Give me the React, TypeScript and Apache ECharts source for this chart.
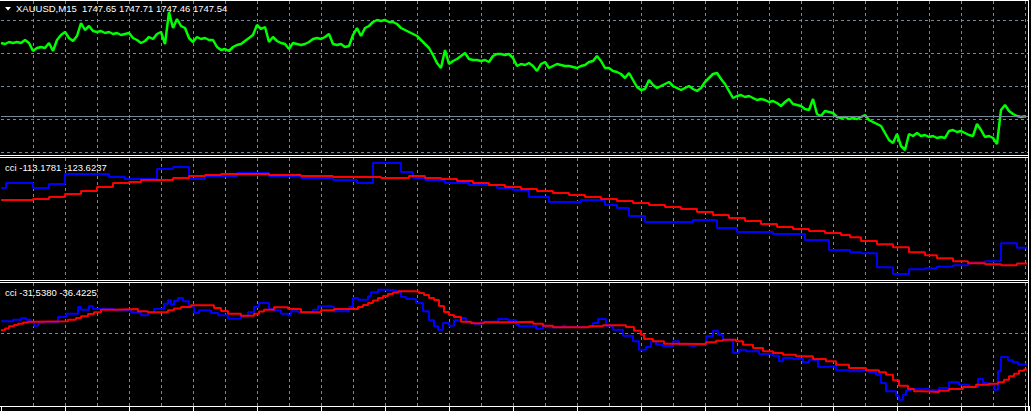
import React, { useEffect, useRef } from "react";
import * as echarts from "echarts";

// ---------- data ----------
const SYMBOL = "XAUUSD";
const PERIOD = "M15";
const OHLC = [1747.65, 1747.71, 1747.46, 1747.54];
const BARS_PER_POINT = 4; // one close every 4 M15 bars
const closes = [
  1765.85, 1765.6, 1766.1, 1765.85, 1766.1, 1765.85, 1766.6, 1765.85, 1763.85, 1764.6,
  1764.85, 1764.6, 1765.85, 1763.85, 1766.6, 1767.85, 1768.6, 1767.1, 1766.35, 1767.6,
  1770.85, 1769.1, 1770.1, 1768.85, 1768.6, 1768.85, 1768.35, 1768.6, 1768.1, 1768.35,
  1767.85, 1768.1, 1768.35, 1767.1, 1766.6, 1765.85, 1766.35, 1767.35, 1766.85, 1768.1,
  1768.6, 1765.6, 1773.6, 1769.6, 1771.85, 1770.1, 1769.6, 1767.1, 1766.1, 1767.35,
  1766.85, 1767.1, 1766.6, 1766.6, 1764.85, 1764.1, 1764.35, 1763.85, 1764.85, 1765.35,
  1765.6, 1766.35, 1767.1, 1767.85, 1770.35, 1769.35, 1769.85, 1766.1, 1767.35, 1766.35,
  1765.85, 1765.6, 1764.35, 1765.85, 1765.6, 1765.35, 1765.6, 1766.1, 1766.85, 1767.1,
  1766.85, 1767.35, 1768.1, 1765.6, 1765.35, 1765.6, 1764.85, 1765.1, 1767.85, 1769.6,
  1767.6, 1769.6, 1770.1, 1771.1, 1771.6, 1771.35, 1771.6, 1771.1, 1771.1, 1770.6,
  1769.6, 1769.1, 1768.6, 1768.1, 1767.6, 1766.6, 1765.6, 1764.6, 1762.85, 1760.85,
  1759.6, 1764.1, 1760.6, 1761.35, 1761.85, 1762.6, 1763.35, 1761.85, 1761.6, 1761.6,
  1761.35, 1761.6, 1761.1, 1762.6, 1763.1, 1763.1, 1762.85, 1763.1, 1762.1, 1760.1,
  1760.6, 1760.35, 1760.85, 1760.1, 1758.85, 1760.6, 1761.1, 1759.6, 1760.1, 1760.6,
  1760.35, 1760.1, 1760.1, 1759.85, 1759.6, 1760.1, 1760.35, 1761.1, 1761.35, 1762.6,
  1761.35, 1759.6, 1759.6, 1758.85, 1758.6, 1758.1, 1757.1, 1758.35, 1756.6, 1754.85,
  1754.1, 1754.35, 1756.6, 1755.35, 1754.6, 1755.1, 1755.6, 1756.1, 1755.1, 1754.6,
  1754.1, 1754.6, 1755.1, 1754.35, 1753.85, 1754.6, 1756.1, 1757.1, 1758.1, 1758.35,
  1756.85, 1755.6, 1753.85, 1752.1, 1752.6, 1752.85, 1752.35, 1752.6, 1752.1, 1751.6,
  1751.85, 1751.6, 1751.1, 1751.35, 1750.85, 1750.1, 1751.1, 1751.85, 1750.6, 1750.35,
  1750.1, 1749.35, 1749.1, 1751.85, 1748.1, 1747.6, 1748.85, 1748.6, 1748.35, 1747.35,
  1747.1, 1747.35, 1746.85, 1747.1, 1746.85, 1747.35, 1747.85, 1746.6, 1746.1, 1745.6,
  1745.1, 1743.35, 1741.6, 1740.85, 1743.1, 1740.1, 1739.1, 1743.1, 1742.6, 1743.35,
  1742.6, 1742.85, 1742.35, 1742.6, 1742.1, 1742.35, 1742.1, 1743.85, 1744.1, 1743.6,
  1743.85, 1743.35, 1742.85, 1742.6, 1745.6, 1744.1, 1742.35, 1742.6, 1742.1, 1740.6,
  1749.1, 1750.35, 1748.85, 1748.1, 1747.6, 1747.35, 1747.54,
];

// slow CCI pane (step lines): bar index where value changes, and the value
const slowLabel = [-113.1781, -123.6237];
const slowBlueBars = [0, 5, 32, 48, 64, 108, 124, 156, 172, 188, 204, 236, 268, 300, 332, 356, 372, 400, 412, 424, 444, 468, 496, 512, 528, 548, 580, 604, 616, 628, 644, 692, 716, 736, 772, 804, 828, 849, 860, 876, 892, 908, 924, 936, 952, 967, 984, 1000, 1016, 1026];
const slowBlueVals = [-73.3, -70, -73.3, -70.7, -64, -66, -67.3, -60.7, -59.3, -67.3, -65.3, -63.3, -65.3, -66.7, -68, -70, -56.7, -62.7, -66.7, -68, -70, -71.3, -73.3, -74.7, -79.3, -82.7, -81.3, -84.7, -86.7, -92, -96, -94.7, -100, -102.7, -104, -108, -114.7, -116.2, -116.9, -126.2, -130.7, -127.5, -126.9, -125.8, -124.9, -122.9, -122.2, -110.2, -113.1781, -113.1781];
const slowRedBars = [0, 32, 48, 64, 80, 96, 112, 128, 140, 172, 188, 204, 220, 268, 300, 332, 380, 408, 424, 440, 456, 472, 488, 504, 520, 536, 552, 568, 584, 600, 616, 632, 648, 664, 680, 696, 712, 728, 744, 760, 776, 792, 808, 824, 840, 849, 860, 876, 892, 908, 924, 936, 952, 967, 984, 1000, 1016, 1026];
const slowRedVals = [-81.3, -80.7, -79.3, -77.3, -75.3, -72.7, -70, -69.3, -68, -66.7, -65.3, -64.7, -64, -64.7, -65.3, -66, -66.7, -65.3, -66.7, -67.3, -68.7, -70, -71.3, -72.7, -74, -75.3, -76.7, -78, -79.3, -80.7, -82, -83.3, -84.7, -86, -87.3, -89.3, -91.3, -93.3, -95.3, -97.3, -99.3, -100.7, -102, -103.3, -104.7, -106.2, -108.7, -110.9, -112.9, -116.2, -118.2, -120.2, -122.2, -123.5, -124.2, -124.9, -123.6237, -123.6237];

// fast CCI pane
const fastLabel = [-31.538, -36.4225];
const fastBlueBars = [0, 12, 20, 25, 30, 33, 37, 43, 57, 65, 77, 80, 88, 92, 113, 130, 140, 147, 153, 163, 167, 170, 173, 177, 182, 188, 193, 198, 210, 217, 227, 240, 247, 253, 258, 268, 272, 280, 287, 290, 297, 312, 317, 330, 333, 348, 352, 357, 367, 370, 377, 387, 395, 400, 405, 415, 422, 428, 433, 437, 442, 448, 453, 460, 465, 473, 480, 497, 507, 515, 518, 535, 542, 545, 562, 565, 592, 597, 605, 612, 622, 632, 638, 645, 650, 655, 662, 672, 678, 688, 695, 705, 712, 717, 722, 732, 738, 745, 758, 772, 778, 782, 792, 802, 808, 817, 825, 835, 848, 862, 868, 875, 880, 885, 895, 898, 902, 905, 910, 928, 938, 948, 958, 968, 977, 982, 987, 993, 997, 1000, 1007, 1012, 1017, 1026];
const fastBlueVals = [11.7, 13.3, 14.7, 13.3, 10.7, 7.3, 10, 11, 16, 19.3, 26, 23.3, 26.7, 24, 22.7, 20.7, 17.7, 20.7, 24, 29.3, 32.7, 28.3, 32.3, 35, 31.7, 26, 20, 22.7, 20, 17.7, 14.3, 16.7, 20.7, 26, 30, 24, 22.7, 19.3, 17.7, 21.7, 20.7, 23.3, 26.7, 26, 21.7, 26, 35, 33.3, 36.7, 40.7, 43.3, 42.7, 40.7, 36, 34, 30, 21.7, 12.7, 6.7, 3.3, 10, 7.3, 12.7, 15, 10.7, 9.3, 11.3, 14, 12.7, 8.3, 6.7, 4.3, 7.3, 5.7, 7.3, 6, 10, 14, 7.3, 3.3, -2.7, -8.3, -16.7, -14, -8.3, -11.7, -13.3, -8.3, -11.7, -12.7, -11.7, -3.3, 2.3, -1.7, -6.7, -20, -16.7, -18.3, -21, -22.7, -28.3, -25, -26, -29.3, -26.7, -34, -33.3, -37.3, -38.3, -37.3, -39.3, -41.7, -50, -58.3, -62.7, -66.7, -61.7, -57.3, -56, -57.3, -55, -49.3, -51.7, -54, -46, -50, -51.7, -56.7, -38.3, -24, -27.3, -29.3, -31.538, -31.538];
const fastRedBars = [0, 4, 8, 13, 17, 22, 27, 33, 67, 75, 80, 87, 93, 100, 113, 137, 147, 167, 173, 180, 190, 213, 220, 227, 240, 253, 258, 263, 273, 287, 300, 320, 333, 357, 362, 367, 372, 377, 382, 387, 392, 397, 413, 418, 423, 428, 433, 438, 443, 448, 453, 460, 470, 483, 515, 532, 542, 552, 588, 602, 625, 633, 640, 643, 652, 663, 675, 705, 715, 722, 735, 742, 752, 762, 772, 782, 795, 812, 825, 835, 848, 865, 878, 885, 892, 898, 907, 913, 922, 938, 948, 962, 975, 988, 997, 1003, 1008, 1013, 1018, 1023, 1026];
const fastRedVals = [2.7, 4.5, 6.7, 8, 9.3, 10.5, 11.3, 11.7, 13.3, 15, 16.7, 19, 20.7, 23.3, 24, 21.7, 20.7, 22.7, 24.5, 26, 27.7, 25, 22, 19.3, 17.3, 19.3, 21.5, 23.3, 25.7, 24, 20.7, 22.7, 24, 26, 28, 30, 32.5, 35, 37, 39, 40.5, 41.7, 41.5, 40, 38, 35, 33, 27, 21, 18, 16, 11.3, 9.7, 10.7, 11.3, 9.3, 7.3, 5.7, 6.7, 7.7, 6, 2.3, -1.7, -6, -8.3, -10.7, -11, -9.3, -7.7, -6.7, -8.3, -11.7, -15, -18.3, -20, -21.7, -23.3, -26, -28.3, -31.7, -35, -37.3, -39.3, -41.7, -47.3, -52.7, -56, -58.3, -59, -57.7, -56, -54, -51.7, -50.7, -49.3, -46.7, -43.3, -40.7, -37.7, -36.4225, -36.4225];

// ---------- styles ----------
const BG = "#000000";
const GRID_COLOR = "#778899";
const WHITE = "#ffffff";
const FONT = '9.5px "Liberation Sans", Arial, sans-serif';
const LAST_BAR = 1028;

function pairs(xs: number[], vs: number[]) {
  return xs.map((x, i) => [x, vs[i]]);
}

function buildOption(): any {
  const dash = { color: GRID_COLOR, type: [3, 3], width: 1 };
  const xAxis = (gridIndex: number) => ({
    type: "value",
    gridIndex,
    min: 0,
    max: LAST_BAR,
    interval: 32,
    axisLine: { show: false },
    axisTick: { show: false },
    axisLabel: { show: false },
    splitLine: { show: true, lineStyle: dash, showMinLine: false, showMaxLine: false },
  });
  const hidden = { axisLine: { show: false }, axisTick: { show: false }, axisLabel: { show: false } };

  const line = (c: string, w = 2) => ({ color: c, width: w });
  const wline = (x1: number, y1: number, x2: number, y2: number) => ({
    type: "line",
    silent: true,
    shape: { x1, y1, x2, y2 },
    style: { stroke: WHITE, lineWidth: 1 },
    z: 100,
  });
  const txt = (x: number, y: number, text: string) => ({
    type: "text",
    x,
    y,
    silent: true,
    style: { text, fill: WHITE, font: FONT, align: "left", verticalAlign: "middle" },
    z: 100,
  });

  const fmt = (v: number) => v.toFixed(4);
  const priceTitle = `${SYMBOL},${PERIOD}  ${OHLC.map((v) => v.toFixed(2)).join(" ")}`;

  return {
    animation: false,
    backgroundColor: BG,
    grid: [
      { left: 1, top: 1, width: 1028, height: 151 },
      { left: 1, top: 158, width: 1028, height: 121 },
      { left: 1, top: 283, width: 1028, height: 123 },
    ],
    xAxis: [
      xAxis(0),
      xAxis(1),
      xAxis(2),
      {
        type: "value",
        gridIndex: 2,
        position: "bottom",
        min: 0,
        max: LAST_BAR,
        interval: 64,
        axisLine: { show: false },
        axisLabel: { show: false },
        axisTick: { show: true, inside: false, length: 5, lineStyle: { color: WHITE, width: 1 } },
        splitLine: { show: false },
      },
    ],
    yAxis: [
      {
        type: "value",
        gridIndex: 0,
        min: 1738.6,
        max: 1776.35,
        interval: 8.25,
        ...hidden,
        splitLine: { show: true, lineStyle: dash, showMinLine: true, showMaxLine: false },
      },
      { type: "value", gridIndex: 1, min: -134, max: -53.33, ...hidden, splitLine: { show: false } },
      {
        type: "value",
        gridIndex: 2,
        min: -73,
        max: 50,
        interval: 73,
        ...hidden,
        splitLine: { show: true, lineStyle: dash, showMinLine: false, showMaxLine: false },
      },
    ],
    series: [
      {
        type: "line",
        xAxisIndex: 0,
        yAxisIndex: 0,
        data: closes.map((v, i) => [i * BARS_PER_POINT, v]),
        showSymbol: false,
        lineStyle: line("#00ff00", 2.5),
        z: 3,
        markLine: {
          silent: true,
          symbol: ["none", "none"],
          label: { show: false },
          lineStyle: { color: GRID_COLOR, type: "solid", width: 1 },
          data: [{ yAxis: OHLC[3] }],
        },
      },
      { type: "line", xAxisIndex: 1, yAxisIndex: 1, step: "end", showSymbol: false, data: pairs(slowBlueBars, slowBlueVals), lineStyle: line("#0000ff") },
      { type: "line", xAxisIndex: 1, yAxisIndex: 1, step: "end", showSymbol: false, data: pairs(slowRedBars, slowRedVals), lineStyle: line("#ff0000") },
      { type: "line", xAxisIndex: 2, yAxisIndex: 2, step: "end", showSymbol: false, data: pairs(fastBlueBars, fastBlueVals), lineStyle: line("#0000ff") },
      { type: "line", xAxisIndex: 2, yAxisIndex: 2, step: "end", showSymbol: false, data: pairs(fastRedBars, fastRedVals), lineStyle: line("#ff0000") },
    ],
    graphic: [
      wline(0, 0.5, 1029, 0.5),
      wline(0, 155.5, 1029, 155.5),
      wline(0, 157.5, 1029, 157.5),
      wline(0, 280.5, 1029, 280.5),
      wline(0, 282.5, 1029, 282.5),
      wline(0, 406.5, 1029, 406.5),
      wline(1028.5, 0, 1028.5, 411),
      {
        type: "polygon",
        silent: true,
        shape: { points: [[5, 7], [11, 7], [8, 10.5]] },
        style: { fill: WHITE },
        z: 100,
      },
      txt(16, 8.5, priceTitle),
      txt(5, 167, `cci ${fmt(slowLabel[0])} ${fmt(slowLabel[1])}`),
      txt(5, 292.5, `cci ${fmt(fastLabel[0])} ${fmt(fastLabel[1])}`),
    ],
  };
}

export default function App() {
  const ref = useRef<HTMLDivElement>(null);
  useEffect(() => {
    document.body.style.margin = "0";
    document.body.style.background = BG;
    const chart = echarts.init(ref.current as HTMLDivElement, null, { renderer: "svg" });
    chart.setOption(buildOption());
    return () => chart.dispose();
  }, []);
  return (
    <div
      ref={ref}
      style={{ position: "fixed", left: 0, top: 0, width: 1031, height: 411, background: BG }}
    />
  );
}
